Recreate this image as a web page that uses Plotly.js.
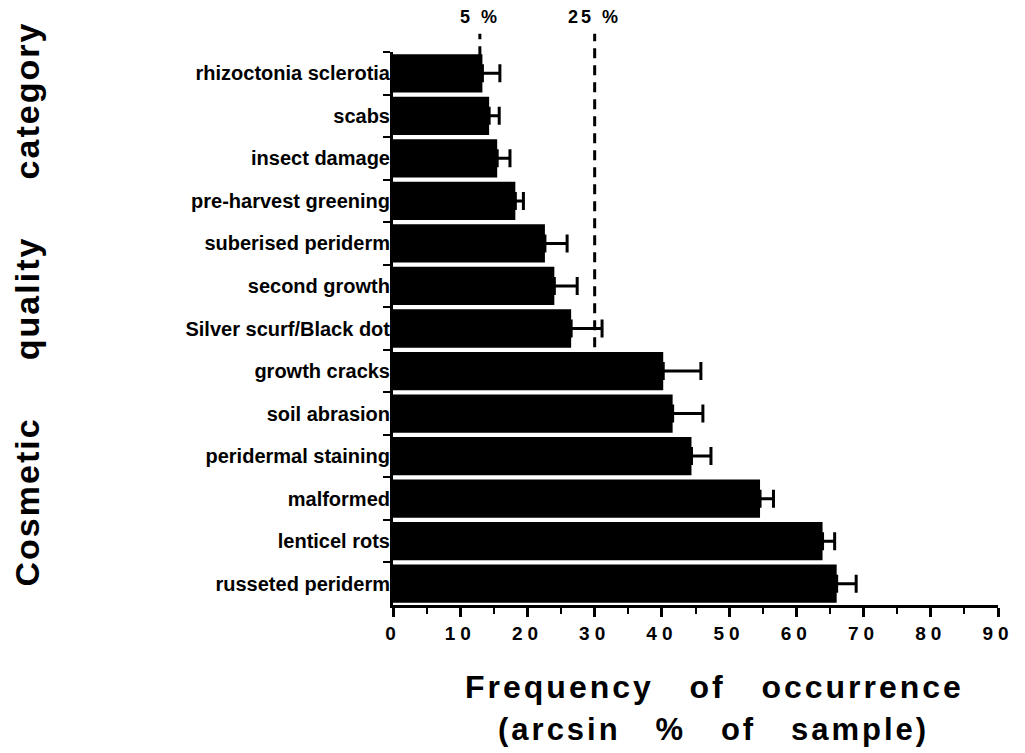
<!DOCTYPE html>
<html>
<head>
<meta charset="utf-8">
<script src="https://cdn.plot.ly/plotly-3.0.1.min.js"></script>
<style>
  body { margin: 0; background: #fff; }
  #chart { width: 1025px; height: 753px; }
  .annotation-text { letter-spacing: 3px; }
  .annotation[data-index="2"] .annotation-text { letter-spacing: 2px; }
  .xtick text { letter-spacing: 5px; }
</style>
</head>
<body>
<div id="chart"></div>
<script>
// Cosmetic defects of tubers, listed from top to bottom of the chart
const categories = [
  'rhizoctonia sclerotia',
  'scabs',
  'insect damage',
  'pre-harvest greening',
  'suberised periderm',
  'second growth',
  'Silver scurf/Black dot',
  'growth cracks',
  'soil abrasion',
  'peridermal staining',
  'malformed',
  'lenticel rots',
  'russeted periderm'
];

// Mean frequency of occurrence (arcsin-transformed %) and upper error
const frequency = [13.3, 14.3, 15.5, 18.2, 22.6, 24.0, 26.5, 40.2, 41.6, 44.4, 54.6, 63.9, 66.0];
const errorPlus = [2.6, 1.5, 1.9, 1.2, 3.3, 3.4, 4.6, 5.6, 4.5, 2.9, 2.0, 1.8, 2.9];
const errorMinus = [0, 0, 0, 0, 0, 0, 0, 0, 0, 0, 0, 0, 0];

const xTickValues = [0, 10, 20, 30, 40, 50, 60, 70, 80, 90];

// Reference thresholds, given as plain percentages
const thresholdPercents = [5, 25];
const thresholdLabels = ['5 %', '25 %'];
// The last category each threshold line reaches down to
const thresholdEnds = ['rhizoctonia sclerotia', 'Silver scurf/Black dot'];

const toArcsin = p => Math.asin(Math.sqrt(p / 100)) * 180 / Math.PI;

const boldFont = (size) => ({ family: 'Liberation Sans, Arial, sans-serif', size: size, weight: 'bold', color: '#000' });

const bars = {
  type: 'bar',
  orientation: 'h',
  x: frequency,
  y: categories,
  marker: { color: '#000', line: { width: 0 } },
  error_x: {
    type: 'data',
    symmetric: false,
    array: errorPlus,
    arrayminus: errorMinus,
    color: '#000',
    thickness: 3,
    width: 9
  },
  hoverinfo: 'skip'
};

const plotTop = 52, plotBottom = 605, nCat = categories.length;
const catToPaper = (idx, offset) => 1 - (idx + 0.5 + offset) / nCat;

const shapes = thresholdPercents.map((p, i) => {
  const endIdx = categories.indexOf(thresholdEnds[i]);
  return {
    type: 'line',
    layer: 'below',
    xref: 'x', yref: 'paper',
    x0: toArcsin(p), x1: toArcsin(p),
    y0: catToPaper(endIdx, i === 0 ? 0 : 0.44),
    y1: 1.033,
    line: { color: '#000', width: 3, dash: '10px,7px' }
  };
});

const annotations = thresholdPercents.map((p, i) => ({
  xref: 'x', yref: 'paper',
  x: toArcsin(p), y: 1.063,
  xanchor: 'center', yanchor: 'middle',
  text: thresholdLabels[i],
  showarrow: false,
  font: boldFont(18)
}));

const nb = n => '\u00a0'.repeat(n);

annotations.push({
  xref: 'paper', yref: 'paper',
  x: -0.606, y: 0.545,
  xanchor: 'center', yanchor: 'middle',
  textangle: -90,
  text: 'Cosmetic' + nb(5) + 'quality' + nb(5) + 'category',
  showarrow: false,
  font: boldFont(34)
});

annotations.push({
  xref: 'paper', yref: 'paper',
  x: 0.532, y: -0.148,
  xanchor: 'center', yanchor: 'middle',
  text: 'Frequency' + nb(3) + 'of' + nb(3) + 'occurrence',
  showarrow: false,
  font: boldFont(32)
});

annotations.push({
  xref: 'paper', yref: 'paper',
  x: 0.53, y: -0.226,
  xanchor: 'center', yanchor: 'middle',
  text: '(arcsin' + nb(3) + '%' + nb(3) + 'of' + nb(3) + 'sample)',
  showarrow: false,
  font: boldFont(31)
});

const layout = {
  width: 1025,
  height: 753,
  margin: { l: 393, r: 27, t: plotTop, b: 753 - plotBottom, pad: 0 },
  paper_bgcolor: '#fff',
  plot_bgcolor: '#fff',
  showlegend: false,
  hovermode: false,
  bargap: 0.1,
  xaxis: {
    range: [0, 90],
    tickvals: xTickValues,
    ticks: 'outside',
    ticklen: 9,
    tickwidth: 3,
    tickcolor: '#000',
    showline: true,
    linewidth: 3,
    linecolor: '#000',
    showgrid: false,
    zeroline: false,
    tickfont: boldFont(19),
    minor: { dtick: 5, ticks: 'outside', ticklen: 6, tickwidth: 2, tickcolor: '#000', showgrid: false },
    fixedrange: true
  },
  yaxis: {
    type: 'category',
    categoryorder: 'array',
    categoryarray: categories,
    range: [nCat - 0.5, -0.5],
    ticks: 'outside',
    tickson: 'boundaries',
    ticklen: 7,
    tickwidth: 2,
    tickcolor: '#000',
    showline: true,
    linewidth: 3,
    linecolor: '#000',
    showgrid: false,
    zeroline: false,
    ticklabelstandoff: -4,
    tickfont: boldFont(20),
    fixedrange: true
  },
  shapes: shapes,
  annotations: annotations
};

Plotly.newPlot('chart', [bars], layout, { displayModeBar: false, staticPlot: true });
</script>
</body>
</html>
